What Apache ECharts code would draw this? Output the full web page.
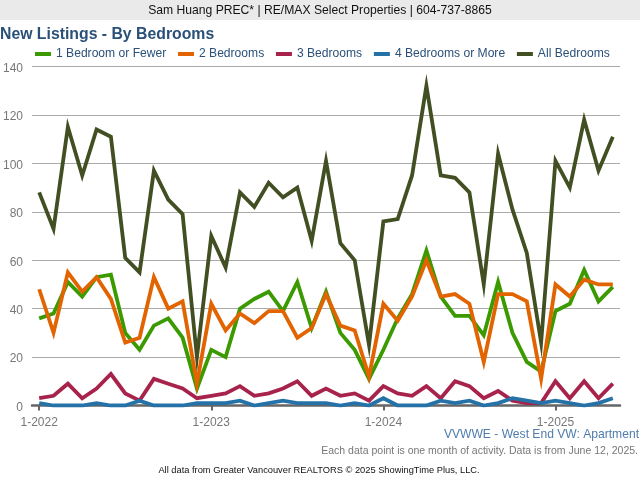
<!DOCTYPE html>
<html><head><meta charset="utf-8">
<style>html,body{margin:0;padding:0;background:#fff}#c{width:640px;height:480px}</style>
<script src="https://cdn.jsdelivr.net/npm/echarts@6/dist/echarts.min.js"></script>
</head><body><div id="c"></div>
<script>
const startYear = 2022;
const months = Array.from({length: 41}, (_, i) => (i % 12 + 1) + '-' + (startYear + Math.floor(i / 12)));
const yearTicks = [0, 12, 24, 36];
const oneBed = [36,38,51,45,53,54,30,23,33,36,28,7,23,20,40,44,47,39,51,32,47,30,23,11,23,36,46,64,45,37,37,29,51,30,18,14,39,42,56,43,49];
const twoBed = [48,30,55,47,53,44,26,28,53,40,43,9,42,31,38,34,39,39,28,32,46,33,31,12,42,35,45,60,45,46,42,18,46,46,43,11,50,45,52,50,50];
const threeBed = [3,4,9,3,7,13,5,2,11,9,7,3,4,5,8,4,5,7,10,4,7,4,5,2,8,5,4,8,3,10,8,3,6,2,1,1,10,3,10,3,9];
const fourBed = [1,0,0,0,1,0,0,2,0,0,0,1,1,1,2,0,1,2,1,1,1,0,1,0,3,0,0,0,2,1,2,0,1,3,2,1,2,1,0,1,3];
const allBed = [88,73,115,95,114,111,61,55,97,85,79,20,70,57,88,82,92,86,90,68,101,67,60,25,76,77,95,132,95,94,88,50,104,81,63,26,101,90,118,97,111];
const font = '"Liberation Sans", Arial, sans-serif';
const mk = (name, data, color, z) => ({name, type:'line', data, z, symbol:'none', smooth:false,
  lineStyle:{color, width:3.8, join:'miter'}, itemStyle:{color}, animation:false});
const chart = echarts.init(document.getElementById('c'), null, {renderer:'canvas'});
chart.setOption({
  animation:false,
  backgroundColor:'#fff',
  graphic:[
    {type:'rect', z:0, shape:{x:0,y:0,width:640,height:20}, style:{fill:'#eaeaea'}},
    {type:'text', z:5, style:{x:320,y:10.5,text:'Sam Huang PREC* | RE/MAX Select Properties | 604-737-8865',fill:'#111',font:'12.15px '+font,align:'center',verticalAlign:'middle'}},
    {type:'text', z:5, style:{x:0,y:34.5,text:'New Listings - By Bedrooms',fill:'#2a5078',font:'bold 15.8px '+font,align:'left',verticalAlign:'middle'}},
    {type:'text', z:5, style:{x:639,y:434.5,text:'VVWWE - West End VW: Apartment',fill:'#4f7cac',font:'12.1px '+font,align:'right',verticalAlign:'middle'}},
    {type:'text', z:5, style:{x:638,y:451,text:'Each data point is one month of activity. Data is from June 12, 2025.',fill:'#777',font:'10.5px '+font,align:'right',verticalAlign:'middle'}},
    {type:'text', z:5, style:{x:319,y:470,text:'All data from Greater Vancouver REALTORS © 2025 ShowingTime Plus, LLC.',fill:'#111',font:'9.3px '+font,align:'center',verticalAlign:'middle'}}
  ],
  legend:{left:30,top:43,itemWidth:16,itemHeight:4,itemGap:11.75,icon:'rect',
    textStyle:{color:'#2a5078',fontFamily:font,fontSize:12.1},
    data:['1 Bedroom or Fewer','2 Bedrooms','3 Bedrooms','4 Bedrooms or More','All Bedrooms']},
  grid:{left:32,right:20,top:66.5,bottom:74.5,containLabel:false},
  xAxis:{type:'category',data:months,boundaryGap:true,
    axisLine:{lineStyle:{color:'#666',width:2.5}},
    axisTick:{show:true,customValues:yearTicks,alignWithLabel:true,length:5,lineStyle:{color:'#666',width:2}},
    axisLabel:{interval:11,color:'#777',fontFamily:font,fontSize:12,margin:11,hideOverlap:false},
    splitLine:{show:false}},
  yAxis:{type:'value',min:0,max:140,interval:20,
    axisLine:{show:false},axisTick:{show:false},
    axisLabel:{color:'#777',fontFamily:font,fontSize:12,margin:9,formatter:'{a|{value}}',
      rich:{a:{color:'#777',fontFamily:font,fontSize:12,padding:[4,0,0,0]}}},
    splitLine:{lineStyle:{color:'#aaa',width:1}}},
  series:[
    mk('1 Bedroom or Fewer',oneBed,'#3a9a00',3),
    mk('2 Bedrooms',twoBed,'#e26400',4),
    mk('3 Bedrooms',threeBed,'#a8234b',5),
    mk('4 Bedrooms or More',fourBed,'#2472a8',6),
    mk('All Bedrooms',allBed,'#424f22',2)
  ]
});
</script></body></html>
